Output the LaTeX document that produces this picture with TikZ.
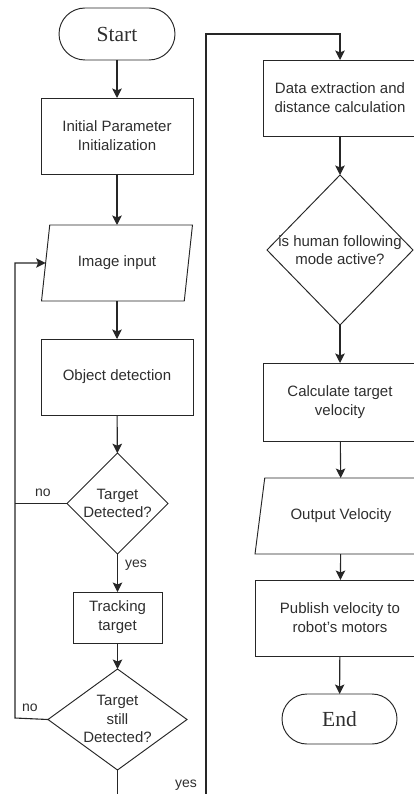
\documentclass[tikz,border=0pt]{standalone}
\usepackage{fontspec}
\setmainfont{Liberation Serif}
\setsansfont{Liberation Sans}
\usetikzlibrary{arrows.meta,shapes.geometric,shapes.misc}

\definecolor{ink}{HTML}{262626}
\definecolor{txt}{HTML}{2E2E2E}

\tikzset{
  base/.style={draw=ink, line width=0.95pt, inner sep=0pt, outer sep=0pt,
    text=txt, align=center,
    font=\sffamily\fontsize{15}{19}\selectfont},
  terminal/.style={base, rounded rectangle, rounded rectangle arc length=180,
    font=\rmfamily\fontsize{21.5}{24}\selectfont},
  procbox/.style={base, rectangle},
  iobox/.style={base, trapezium, trapezium stretches=true},
  decision/.style={base, diamond},
  dtext/.style={text=txt, align=center, inner sep=0pt,
    font=\sffamily\fontsize{15}{18.5}\selectfont},
  edgelabel/.style={text=txt, inner sep=0pt, font=\sffamily\fontsize{14}{16}\selectfont},
  flow/.style={draw=ink, line width=1.1pt},
  arr/.style={flow, -{Stealth[length=9.5pt,width=9.5pt,inset=2pt]}},
}

\begin{document}
\begin{tikzpicture}[x=1pt,y=-1pt]
  \useasboundingbox (0,0) rectangle (414,794);
  \clip (0,0) rectangle (414,794);

  % ---- left column ----
  \node[terminal, minimum width=116pt, minimum height=52pt] (start) at (117,34) {Start};
  \node[procbox, minimum width=152pt, minimum height=76pt] (init) at (117,136)
    {Initial Parameter\\Initialization};
  \node[iobox, minimum width=152pt, minimum height=76pt,
        trapezium left angle=71.1, trapezium right angle=108.9] (img) at (117,263)
    {Image input};
  \node[procbox, minimum width=152pt, minimum height=76pt] (detect) at (117,377)
    {Object detection};
  \node[decision, minimum width=101pt, minimum height=101pt,
        label={[dtext]center:Target\\Detected?}] (d1) at (117.5,503.5) {};
  \node[procbox, minimum width=89pt, minimum height=51pt] (track) at (117.5,617.5)
    {Tracking\\target};
  \node[decision, minimum width=139pt, minimum height=101pt,
        label={[dtext, yshift=0.5pt]center:Target\\still\\Detected?}] (d2) at (117.5,719.5) {};

  % ---- right column ----
  \node[procbox, minimum width=154pt, minimum height=76pt] (data) at (340,98)
    {Data extraction and\\distance calculation};
  \node[decision, minimum width=146pt, minimum height=150pt,
        label={[dtext]center:is human following\\mode active?}] (d3) at (340,250) {};
  \node[procbox, minimum width=154pt, minimum height=78pt] (calc) at (340,402)
    {Calculate target\\velocity};
  \node[iobox, minimum width=172pt, minimum height=76pt,
        trapezium left angle=65.3, trapezium right angle=114.7] (outv) at (341,516)
    {Output Velocity};
  \node[procbox, minimum width=170pt, minimum height=76pt] (pub) at (340,618)
    {Publish velocity to\\robot's motors};
  \node[terminal, minimum width=115pt, minimum height=50pt] (end) at (339.5,719) {End};

  % ---- main flow ----
  \draw[arr] (start) -- (init);
  \draw[arr] (init) -- (img);
  \draw[arr] (img) -- (detect);
  \draw[arr] (detect) -- (d1);
  \draw[arr] (d1) -- (track);
  \draw[arr] (track) -- (d2);

  \draw[arr] (data) -- (d3);
  \draw[arr] (d3) -- (calc);
  \draw[arr] (calc) -- (outv);
  \draw[arr] (outv) -- (pub);
  \draw[arr] (pub) -- (end);

  % ---- retry loop back to the image input ----
  \coordinate (loopA) at (15,503.5);
  \coordinate (loopB) at (15,718);
  \draw[flow] (d1.west) -- (loopA);
  \draw[arr] (d2.west) -- (loopB) |- (img.left side);
  \node[edgelabel] (no1) at (43,493) {no};
  \node[edgelabel] (no2) at (30,708) {no};

  % ---- continue to the right column ----
  \coordinate (lowturn) at (117.5,830);
  \coordinate (topturn) at (206,34);
  \draw[arr] (d2.south) -- (lowturn) -| (topturn) -| (data.north);
  \node[edgelabel] (yes1) at (136,565) {yes};
  \node[edgelabel] (yes2) at (186,785) {yes};
\end{tikzpicture}
\end{document}
